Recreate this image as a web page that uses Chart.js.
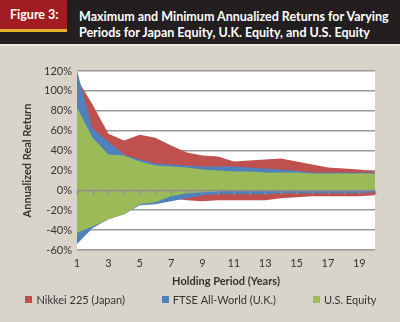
<!DOCTYPE html>
<html>
<head>
<meta charset="utf-8">
<script src="https://cdn.jsdelivr.net/npm/chart.js@4.4.1/dist/chart.umd.min.js"></script>
<style>
  body { margin: 0; width: 400px; height: 322px; background: #d8d4ca; font-family: Lato, sans-serif; overflow: hidden; position: relative; }
  .header { position: absolute; left: 0; top: 0; width: 400px; height: 44px; background: #231f20; }
  .fig { position: absolute; left: 0; top: 0; width: 67px; height: 29px; background: #a11d21; color: #fff; font-weight: bold; font-size: 12.5px; line-height: 30px; padding-left: 10px; box-sizing: border-box; }
  .stripe { position: absolute; left: 0; top: 29px; width: 67px; height: 3px; background: #e5b230; }
  .title { position: absolute; left: 79px; top: 9px; color: #fff; font-weight: bold; font-size: 12.5px; line-height: 15.5px; white-space: nowrap; }
  .sep { position: absolute; left: 0; top: 44px; width: 400px; height: 2px; background: #ebe8e2; }
  #wrap { position: absolute; left: 0; top: 46px; width: 400px; height: 276px; }
</style>
</head>
<body>
<div class="header">
  <div class="fig">Figure 3:</div>
  <div class="stripe"></div>
  <div class="title">Maximum and Minimum Annualized Returns for Varying<br>Periods for Japan Equity, U.K. Equity, and U.S. Equity</div>
</div>
<div class="sep"></div>
<div id="wrap"><canvas id="myChart" width="400" height="276"></canvas></div>
<script>
// holding period in years
var years = [1,2,3,4,5,6,7,8,9,10,11,12,13,14,15,16,17,18,19,20];

// annualized real returns, %
var nikkeiMax = [112,86,57,50,56,53,45,38,35,34,29,30,31,32,29,26,23,22,21,19];
var nikkeiMin = [-45,-30,-25,-20,-12,-10,-8,-10,-11,-10,-10,-10,-10,-8,-7,-6,-6,-6,-6,-5];
var ftseMax = [120,62,49,36,31,27,26,25,24,24,24,23,22,21,20,18,18,18,18,18];
var ftseMin = [-54,-38,-29,-24,-15,-14,-11,-8,-5,-4,-4,-4,-4,-3,-3,-3,-3,-3,-3,-2];
var usMax = [83,53,36,35,29,25,24,23,21,20,19,19,18,18,18,17,17,17,17,17];
var usMin = [-43,-36,-29,-24,-14,-12,-6,-3,-2,-1,1,2,2,3,3,3,4,4,4,4];

var red = '#c0504d', blue = '#4f81bd', green = '#9bbb59';

function area(label, values, color, inLegend) {
  return {
    label: label,
    data: values,
    backgroundColor: color,
    borderColor: 'rgba(0,0,0,0)',
    borderWidth: 0,
    pointRadius: 0,
    tension: 0,
    fill: 'origin',
    inLegend: inLegend
  };
}

// white plot area
var plotBg = {
  id: 'plotBg',
  beforeDraw: function(chart) {
    var a = chart.chartArea, ctx = chart.ctx;
    ctx.save();
    ctx.fillStyle = '#fff';
    ctx.fillRect(a.left, a.top, a.right - a.left, a.bottom - a.top);
    ctx.restore();
  }
};

// zero axis line with a tick at each category, drawn above the areas
var zeroAxis = {
  id: 'zeroAxis',
  afterDatasetsDraw: function(chart) {
    var ctx = chart.ctx, area = chart.chartArea;
    var x = chart.scales.x, y = chart.scales.y;
    var y0 = Math.round(y.getPixelForValue(0)) + 0.5;
    ctx.save();
    ctx.strokeStyle = '#8e8e8e';
    ctx.lineWidth = 1.5;
    ctx.beginPath();
    ctx.moveTo(area.left, y0);
    ctx.lineTo(area.right, y0);
    years.forEach(function(yr, i) {
      var px = Math.round(x.getPixelForValue(i)) + 0.5;
      ctx.moveTo(px, y0);
      ctx.lineTo(px, y0 + 4);
    });
    ctx.stroke();
    ctx.restore();
  }
};

// legend row under the axis title
var bottomLegend = {
  id: 'bottomLegend',
  afterDraw: function(chart) {
    var ctx = chart.ctx;
    var items = chart.data.datasets.filter(function(d) { return d.inLegend; }).reverse();
    var box = 7, gap = 4, spacing = 37;
    ctx.save();
    ctx.font = '11px Lato';
    var total = 0;
    items.forEach(function(d, i) {
      total += box + gap + ctx.measureText(d.label).width + (i ? spacing : 0);
    });
    var cx = chart.width / 2 + 1, cy = 254;
    var px = cx - total / 2;
    ctx.textBaseline = 'middle';
    items.forEach(function(d) {
      ctx.fillStyle = d.backgroundColor;
      ctx.fillRect(Math.round(px), cy - 4, box, box);
      ctx.fillStyle = '#333';
      ctx.fillText(d.label, px + box + gap, cy);
      px += box + gap + ctx.measureText(d.label).width + spacing;
    });
    ctx.restore();
  }
};

var ctx = document.getElementById('myChart');
var myChart = new Chart(ctx, {
  type: 'line',
  data: {
    labels: years,
    datasets: [
      area('U.S. Equity', usMax, green, true),
      area('U.S. Equity min', usMin, green, false),
      area('FTSE All-World (U.K.)', ftseMax, blue, true),
      area('FTSE All-World (U.K.) min', ftseMin, blue, false),
      area('Nikkei 225 (Japan)', nikkeiMax, red, true),
      area('Nikkei 225 (Japan) min', nikkeiMin, red, false)
    ]
  },
  options: {
    responsive: false,
    animation: false,
    layout: { padding: { left: 21, right: 25, top: 25, bottom: 32 } },
    plugins: {
      legend: { display: false },
      tooltip: { enabled: false }
    },
    scales: {
      x: {
        offset: false,
        grid: { display: false, drawTicks: false },
        border: { display: false },
        ticks: {
          autoSkip: false,
          maxRotation: 0,
          padding: 7,
          color: '#333',
          font: { family: 'Lato', size: 11 },
          callback: function(v, i) { return years[i] % 2 ? years[i] : ''; }
        },
        title: {
          display: true,
          text: 'Holding Period (Years)',
          color: '#333',
          font: { family: 'Lato', size: 11, weight: 'bold' },
          padding: { top: 0, bottom: 2 }
        },
        afterFit: function(s) { s.height = 40; }
      },
      y: {
        min: -60,
        max: 120,
        grid: { color: '#9a9a9a', lineWidth: 1.5, drawTicks: false },
        border: { display: false },
        ticks: {
          stepSize: 20,
          padding: 5,
          color: '#333',
          font: { family: 'Lato', size: 11 },
          callback: function(v) { return v + '%'; }
        },
        title: {
          display: true,
          text: 'Annualized Real Return',
          color: '#333',
          font: { family: 'Lato', size: 11, weight: 'bold' },
          padding: 0
        },
        afterFit: function(s) { s.width = 56; }
      }
    }
  },
  plugins: [plotBg, zeroAxis, bottomLegend]
});
</script>
</body>
</html>
